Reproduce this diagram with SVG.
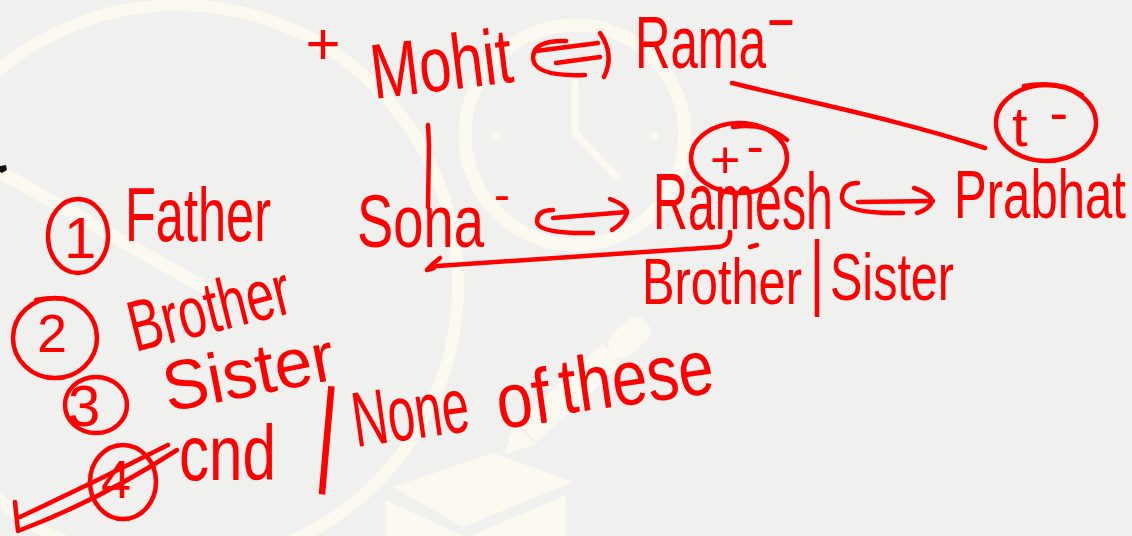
<svg xmlns="http://www.w3.org/2000/svg" width="1132" height="536" viewBox="0 0 1132 536">
  <style>
    .wm { fill: none; stroke: #fcf9f0; stroke-linecap: round; stroke-linejoin: round; }
    .wmf { fill: #fcf9f0; stroke: none; }
    .ink { fill: none; stroke: #ff0000; stroke-width: 4.5; stroke-linecap: round; stroke-linejoin: round; }
    .txt { fill: #ff0000; font-family: "Liberation Sans", Arial, sans-serif; }
  </style>
  <rect x="0" y="0" width="1132" height="536" fill="#f0f0ef"/>

  <!-- faint watermark -->
  <g id="watermark">
    <circle class="wm" cx="178" cy="285" r="280" stroke-width="12"/>
    <path class="wm" d="M 0 172 L 205 288" stroke-width="13"/>
    <circle class="wm" cx="575" cy="135" r="110" stroke-width="13"/>
    <circle class="wmf" cx="496" cy="136" r="4"/>
    <circle class="wmf" cx="655" cy="136" r="4"/>
    <path class="wm" d="M 575 82 L 575 133 L 617 177" stroke-width="7"/>
    <path class="wmf" d="M 505 454 L 514 424 L 536 444 Z"/>
    <path class="wm" d="M 527 432 L 612 354" stroke-width="28" style="stroke-linecap:butt"/>
    <path class="wm" d="M 622 344 L 636 331" stroke-width="28"/>
    <path class="wmf" d="M 393 487 L 493 453 L 573 482 L 463 527 Z"/>
    <path class="wmf" d="M 386 500 L 463 536 L 386 536 Z"/>
    <path class="wmf" d="M 470 536 L 566 495 L 566 536 Z"/>
  </g>

  <path d="M 0 166 L 6 165 L 7 170 L 2 173 L 0 172 Z" fill="#111"/>

  <!-- connectors -->
  <g id="connectors">
    <!-- Mohit <=> Rama -->
    <path class="ink" d="M 566 41 Q 533 40 533 58 Q 534 77 585 75"/>
    <path class="ink" d="M 536 51 L 598 43"/>
    <path class="ink" d="M 556 63 L 600 57"/>
    <path class="ink" d="M 600 33 Q 615 55 604 77"/>
    <!-- Rama to t- -->
    <path class="ink" d="M 732 83 C 800 100 900 120 985 148"/>
    <!-- Mohit to Sona -->
    <path class="ink" d="M 428 125 L 429 145 L 428 207"/>
    <!-- Sona <-> Ramesh -->
    <path class="ink" d="M 553 210 Q 537 210 537 222 Q 538 234 593 233"/>
    <path class="ink" d="M 553 218 L 627 212"/>
    <path class="ink" d="M 610 199 Q 627 205 627 213 Q 623 224 612 230"/>
    <!-- Ramesh <-> Prabhat -->
    <path class="ink" d="M 858 183 Q 842 183 842 198 Q 843 214 903 213"/>
    <path class="ink" d="M 858 202 L 933 201"/>
    <path class="ink" d="M 914 188 Q 932 194 932 202 Q 928 210 917 213"/>
    <!-- Ramesh back to Sona -->
    <path class="ink" d="M 730 232 Q 731 246 718 247 L 437 266" stroke-width="3"/>
    <path class="ink" d="M 440 258 Q 432 264 427 270 L 434 268" stroke-width="3"/>
    <path class="ink" d="M 750 247 L 757 245" stroke-width="3"/>
  </g>

  <g id="plus">
    <text class="txt" x="323" y="64" font-size="60" text-anchor="middle">+</text>
  </g>
  <g id="mohit">
    <text class="txt" x="374" y="99" font-size="78" textLength="142" lengthAdjust="spacingAndGlyphs" transform="rotate(-7 374 99)">Mohit</text>
  </g>
  <g id="rama">
    <text class="txt" x="635" y="68" font-size="74" textLength="131" lengthAdjust="spacingAndGlyphs">Rama</text>
    <text class="txt" x="766" y="33" font-size="40" font-weight="bold" textLength="30" lengthAdjust="spacingAndGlyphs">-</text>
  </g>
  <g id="sign-right">
    <ellipse class="ink" cx="1046" cy="123" rx="50" ry="38"/>
    <path class="ink" d="M 1024 86 Q 1060 80 1082 95"/>
    <text class="txt" x="1012" y="146" font-size="56">t<tspan dx="22" dy="-14">-</tspan></text>
  </g>
  <g id="sign-left">
    <ellipse class="ink" cx="739" cy="158" rx="48" ry="35"/>
    <path class="ink" d="M 733 127 Q 765 122 787 140"/>
    <text class="txt" x="710" y="178" font-size="52">+<tspan dx="6" dy="-14">-</tspan></text>
  </g>
  <g id="sona">
    <text class="txt" x="357" y="247" font-size="74" textLength="127" lengthAdjust="spacingAndGlyphs">Sona</text>
    <text class="txt" x="494" y="211" font-size="48">-</text>
  </g>
  <g id="ramesh">
    <text class="txt" x="653" y="229" font-size="80" textLength="180" lengthAdjust="spacingAndGlyphs">Ramesh</text>
  </g>
  <g id="prabhat">
    <text class="txt" x="954" y="218" font-size="68" textLength="172" lengthAdjust="spacingAndGlyphs">Prabhat</text>
  </g>
  <g id="answer">
    <text class="txt" x="642" y="304" font-size="64" textLength="160" lengthAdjust="spacingAndGlyphs">Brother</text>
    <text class="txt" font-size="56" text-anchor="middle" transform="translate(817 300) scale(1 1.5)">|</text>
    <text class="txt" x="830" y="300" font-size="66" textLength="124" lengthAdjust="spacingAndGlyphs">Sister</text>
  </g>

  <g id="option1">
    <ellipse class="ink" cx="78" cy="236" rx="30" ry="37"/>
    <text class="txt" x="64" y="258" font-size="58">1</text>
    <text class="txt" x="125" y="241" font-size="76" textLength="146" lengthAdjust="spacingAndGlyphs">Father</text>
  </g>
  <g id="option2">
    <ellipse class="ink" cx="55" cy="338" rx="42" ry="40"/>
    <path class="ink" d="M 36 300 Q 50 297 65 299"/>
    <text class="txt" x="37" y="352" font-size="54">2</text>
    <text class="txt" x="135" y="352" font-size="72" textLength="165" lengthAdjust="spacingAndGlyphs" transform="rotate(-14 135 352)">Brother</text>
  </g>
  <g id="option3">
    <ellipse class="ink" cx="96" cy="405" rx="31" ry="28"/>
    <text class="txt" x="68" y="426" font-size="58">3</text>
    <text class="txt" x="168" y="412" font-size="70" textLength="173" lengthAdjust="spacingAndGlyphs" transform="rotate(-11 168 412)">Sister</text>
  </g>
  <g id="option4">
    <ellipse class="ink" cx="123" cy="482" rx="33" ry="37"/>
    <text class="txt" x="101" y="498" font-size="54">4</text>
    <path class="ink" d="M 15 502 L 18 531 Q 100 500 177 450"/>
    <path class="ink" d="M 20 517 Q 95 482 168 445"/>
    <text class="txt" x="179" y="480" font-size="78" textLength="97" lengthAdjust="spacingAndGlyphs">cnd</text>
    <text class="txt" font-size="80" text-anchor="middle" transform="translate(324 470) rotate(5) scale(1 1.45)">|</text>
    <text class="txt" x="356" y="447" font-size="78" textLength="117" lengthAdjust="spacingAndGlyphs" transform="rotate(-8 356 447)">None</text>
    <text class="txt" x="500" y="429" font-size="78" textLength="54" lengthAdjust="spacingAndGlyphs" transform="rotate(-8 500 429)">of</text>
    <text class="txt" x="563" y="414" font-size="78" textLength="155" lengthAdjust="spacingAndGlyphs" transform="rotate(-8 563 414)">these</text>
  </g>
</svg>
